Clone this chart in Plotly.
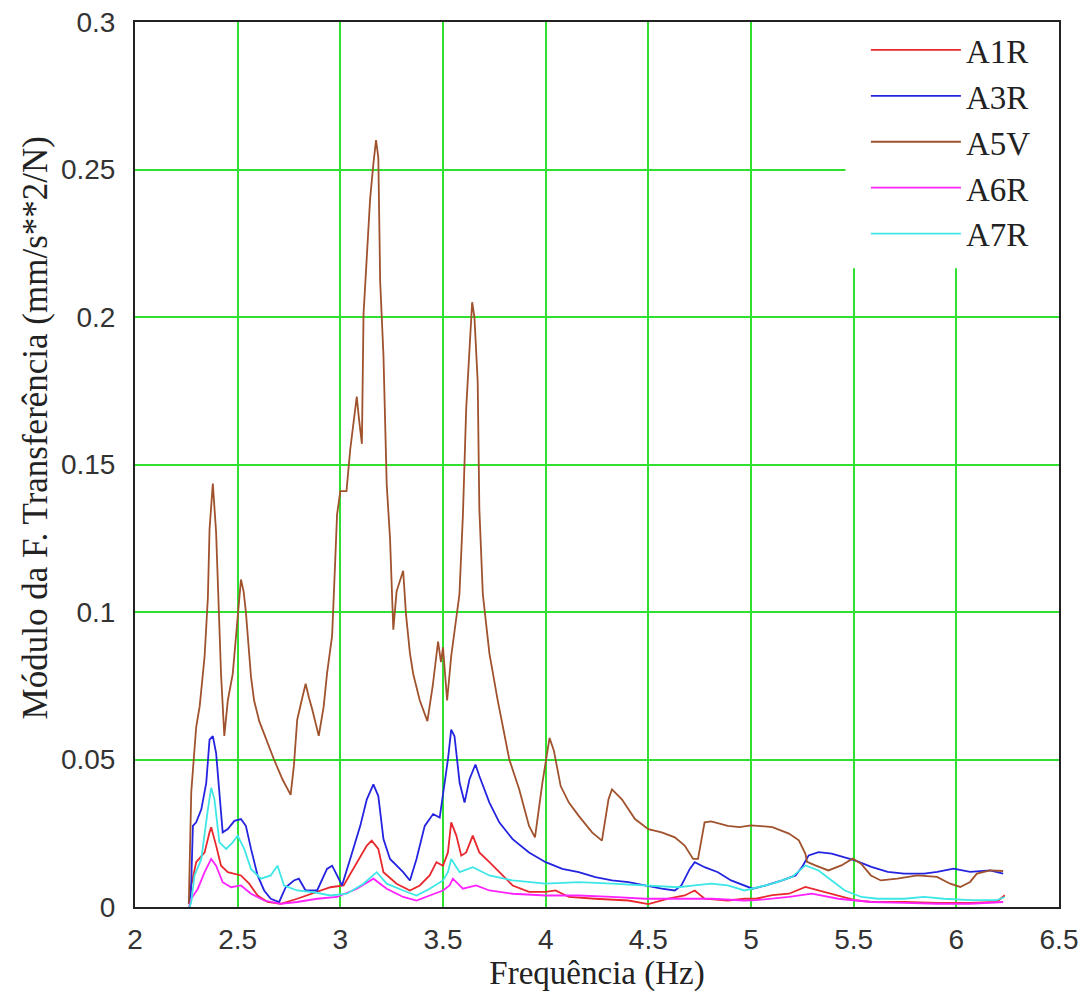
import plotly.graph_objects as go

# ---------------- data ----------------
names = ["A1R", "A3R", "A5V", "A6R", "A7R"]
colors = ["#e8282c", "#2424e0", "#a0522d", "#ff22ff", "#3ee6e6"]

a1r_x = [2.266, 2.274, 2.298, 2.339, 2.363, 2.371, 2.395, 2.419, 2.452, 2.484,
         2.516, 2.556, 2.597, 2.645, 2.71, 2.79, 2.887, 2.952, 3.016, 3.081,
         3.129, 3.153, 3.185, 3.21, 3.274, 3.339, 3.387, 3.435, 3.468, 3.5,
         3.524, 3.54, 3.565, 3.589, 3.613, 3.645, 3.677, 3.726, 3.774, 3.839,
         3.919, 4.0, 4.048, 4.113, 4.242, 4.403, 4.5, 4.597, 4.677, 4.726,
         4.774, 4.887, 4.968, 5.024, 5.104, 5.185, 5.265, 5.329, 5.425, 5.506,
         5.586, 5.746, 5.907, 6.067, 6.196, 6.236]
a1r_y = [0.0, 0.0073, 0.0152, 0.0185, 0.0253, 0.027, 0.0208, 0.014, 0.0118, 0.0112,
         0.0107, 0.0079, 0.0039, 0.0017, 0.0011, 0.0028, 0.005, 0.0067, 0.0073, 0.0152,
         0.0208, 0.0225, 0.0197, 0.0118, 0.0079, 0.0056, 0.0073, 0.0107, 0.0152, 0.014,
         0.0185, 0.0287, 0.0242, 0.0174, 0.0185, 0.0242, 0.0185, 0.0152, 0.0118, 0.0073,
         0.0051, 0.0051, 0.0056, 0.0034, 0.0028, 0.0022, 0.001, 0.0028, 0.0039, 0.0056,
         0.0028, 0.0022, 0.0028, 0.0028, 0.004, 0.0045, 0.0068, 0.0056, 0.004, 0.0023,
         0.0017, 0.0017, 0.0014, 0.0014, 0.0017, 0.004]

a3r_x = [2.266, 2.274, 2.282, 2.298, 2.323, 2.347, 2.363, 2.379, 2.395, 2.411,
         2.427, 2.452, 2.484, 2.516, 2.54, 2.565, 2.597, 2.629, 2.661, 2.702,
         2.734, 2.774, 2.798, 2.831, 2.887, 2.935, 2.96, 2.984, 3.008, 3.048,
         3.097, 3.129, 3.161, 3.185, 3.21, 3.242, 3.274, 3.306, 3.339, 3.371,
         3.411, 3.452, 3.484, 3.508, 3.524, 3.54, 3.556, 3.581, 3.605, 3.629,
         3.658, 3.677, 3.726, 3.774, 3.839, 3.919, 4.0, 4.081, 4.161, 4.242,
         4.323, 4.403, 4.484, 4.565, 4.629, 4.661, 4.702, 4.726, 4.774, 4.839,
         4.903, 4.968, 5.008, 5.072, 5.152, 5.217, 5.249, 5.281, 5.329, 5.393,
         5.457, 5.506, 5.586, 5.666, 5.746, 5.843, 5.907, 5.987, 6.067, 6.164,
         6.228]
a3r_y = [0.0, 0.0084, 0.0275, 0.0287, 0.0331, 0.0421, 0.0567, 0.0579, 0.0522, 0.0376,
         0.0253, 0.0264, 0.0292, 0.0298, 0.0275, 0.0197, 0.0107, 0.0056, 0.0028, 0.0017,
         0.0067, 0.009, 0.0096, 0.0056, 0.0056, 0.0129, 0.014, 0.0107, 0.0073, 0.0163,
         0.0275, 0.0365, 0.0416, 0.0376, 0.023, 0.0163, 0.014, 0.0118, 0.009, 0.0163,
         0.0275, 0.0315, 0.0303, 0.0421, 0.05, 0.0601, 0.0579, 0.0421, 0.0354, 0.0433,
         0.0483, 0.0444, 0.0354, 0.0287, 0.023, 0.0185, 0.0152, 0.0129, 0.0118, 0.0101,
         0.009, 0.0084, 0.0073, 0.0062, 0.0056, 0.0073, 0.0129, 0.0152, 0.0135, 0.0118,
         0.009, 0.0073, 0.0062, 0.0073, 0.009, 0.0107, 0.0136, 0.0175, 0.0186, 0.0181,
         0.0169, 0.0158, 0.0136, 0.0119, 0.0113, 0.0113, 0.0119, 0.013, 0.0119, 0.0124,
         0.0113]

a5v_x = [2.262, 2.274, 2.298, 2.315, 2.339, 2.355, 2.363, 2.379, 2.395, 2.406,
         2.419, 2.435, 2.452, 2.476, 2.5, 2.516, 2.529, 2.54, 2.565, 2.58,
         2.605, 2.645, 2.677, 2.718, 2.758, 2.774, 2.79, 2.815, 2.831, 2.847,
         2.863, 2.895, 2.919, 2.935, 2.96, 2.976, 2.984, 3.0, 3.03, 3.048,
         3.08, 3.09, 3.105, 3.113, 3.129, 3.145, 3.161, 3.174, 3.185, 3.194,
         3.21, 3.218, 3.226, 3.242, 3.258, 3.274, 3.306, 3.32, 3.339, 3.355,
         3.387, 3.424, 3.45, 3.476, 3.49, 3.5, 3.52, 3.54, 3.58, 3.597,
         3.613, 3.629, 3.642, 3.653, 3.669, 3.677, 3.694, 3.726, 3.766, 3.823,
         3.871, 3.919, 3.948, 3.984, 4.008, 4.019, 4.04, 4.073, 4.113, 4.161,
         4.226, 4.274, 4.306, 4.323, 4.371, 4.435, 4.5, 4.565, 4.629, 4.677,
         4.718, 4.742, 4.774, 4.806, 4.887, 4.944, 5.0, 5.104, 5.185, 5.233,
         5.265, 5.273, 5.313, 5.377, 5.44, 5.495, 5.536, 5.584, 5.632, 5.713,
         5.81, 5.906, 5.97, 6.019, 6.067, 6.1, 6.164, 6.228]
a5v_y = [0.001, 0.039, 0.061, 0.068, 0.085, 0.105, 0.128, 0.1435, 0.127, 0.104,
         0.079, 0.058, 0.07, 0.079, 0.1, 0.111, 0.107, 0.1, 0.078, 0.07,
         0.063, 0.0556, 0.05, 0.0433, 0.038, 0.048, 0.0635, 0.071, 0.0757, 0.071,
         0.067, 0.058, 0.068, 0.079, 0.092, 0.119, 0.133, 0.141, 0.141, 0.155,
         0.173, 0.166, 0.157, 0.201, 0.22, 0.24, 0.252, 0.26, 0.254, 0.212,
         0.187, 0.164, 0.143, 0.125, 0.094, 0.107, 0.114, 0.099, 0.086, 0.079,
         0.07, 0.063, 0.075, 0.09, 0.083, 0.088, 0.07, 0.085, 0.106, 0.133,
         0.169, 0.189, 0.205, 0.2, 0.178, 0.135, 0.106, 0.086, 0.0702, 0.05,
         0.0399, 0.0275, 0.0236, 0.0421, 0.0534, 0.0573, 0.053, 0.041, 0.0354, 0.0309,
         0.0253, 0.0225, 0.0365, 0.0399, 0.0365, 0.0298, 0.0264, 0.0253, 0.0236, 0.0208,
         0.0163, 0.0163, 0.0287, 0.029, 0.0275, 0.0271, 0.0277, 0.0271, 0.0249, 0.0226,
         0.018, 0.0153, 0.0141, 0.0124, 0.0141, 0.0164, 0.0147, 0.0107, 0.009, 0.0096,
         0.0107, 0.0102, 0.0079, 0.0068, 0.0085, 0.0113, 0.0124, 0.0122]

a6r_x = [2.266, 2.274, 2.306, 2.339, 2.371, 2.395, 2.427, 2.468, 2.516, 2.565,
         2.629, 2.71, 2.79, 2.887, 2.984, 3.081, 3.161, 3.226, 3.306, 3.371,
         3.435, 3.5, 3.532, 3.548, 3.597, 3.661, 3.726, 3.839, 4.0, 4.161,
         4.323, 4.484, 4.645, 4.806, 4.968, 5.024, 5.185, 5.297, 5.425, 5.586,
         5.746, 5.907, 6.067, 6.228]
a6r_y = [0.0, 0.0028, 0.0062, 0.0118, 0.0163, 0.014, 0.0084, 0.0067, 0.0073, 0.0045,
         0.0022, 0.0011, 0.0017, 0.0028, 0.0034, 0.0062, 0.0096, 0.0062, 0.0034, 0.0022,
         0.0039, 0.0056, 0.0073, 0.0096, 0.0062, 0.0073, 0.0056, 0.0045, 0.0039, 0.0039,
         0.0034, 0.0028, 0.0028, 0.0028, 0.0022, 0.0023, 0.0034, 0.0045, 0.0028, 0.0017,
         0.0014, 0.0011, 0.0011, 0.0017]

a7r_x = [2.266, 2.274, 2.29, 2.323, 2.355, 2.371, 2.387, 2.411, 2.444, 2.476,
         2.5, 2.532, 2.565, 2.613, 2.661, 2.694, 2.726, 2.79, 2.871, 2.952,
         3.032, 3.113, 3.177, 3.226, 3.306, 3.371, 3.435, 3.5, 3.524, 3.54,
         3.581, 3.645, 3.726, 3.839, 4.0, 4.161, 4.323, 4.484, 4.645, 4.726,
         4.806, 4.887, 4.968, 5.104, 5.2, 5.265, 5.329, 5.393, 5.457, 5.538,
         5.618, 5.746, 5.843, 5.939, 6.067, 6.196, 6.236]
a7r_y = [0.0, 0.0017, 0.0107, 0.0163, 0.0331, 0.0404, 0.0365, 0.0219, 0.0197, 0.0219,
         0.0242, 0.0197, 0.0129, 0.0096, 0.0107, 0.014, 0.0073, 0.0056, 0.005, 0.0039,
         0.0045, 0.0079, 0.0118, 0.0079, 0.0056, 0.0039, 0.0062, 0.009, 0.0118, 0.0163,
         0.0118, 0.0135, 0.0107, 0.009, 0.0079, 0.0084, 0.0079, 0.0073, 0.0067, 0.0073,
         0.0079, 0.0073, 0.0056, 0.0079, 0.0102, 0.0141, 0.0124, 0.009, 0.0056, 0.0034,
         0.0028, 0.0028, 0.0034, 0.0028, 0.0023, 0.0023, 0.0034]

x_title = "Frequência (Hz)"
y_title = "Módulo da F. Transferência (mm/s**2/N)"

series_x = [a1r_x, a3r_x, a5v_x, a6r_x, a7r_x]
series_y = [a1r_y, a3r_y, a5v_y, a6r_y, a7r_y]

# ---------------- figure ----------------
SERIF = "Liberation Serif, Times New Roman, serif"
SANS = "Liberation Sans, Arial, sans-serif"
GRID = "#30e030"
X0, X1, Y0, Y1 = 2, 6.5, 0, 0.3

fig = go.Figure()

# white panel behind the legend that hides the grid (as in the reference)
fig.add_trace(go.Scatter(x=[5.46, X1, X1, 5.46, 5.46], y=[0.2165, 0.2165, Y1, Y1, 0.2165],
                         fill="toself", fillcolor="white", mode="none",
                         showlegend=False, hoverinfo="skip"))

for nm, col, xs, ys in zip(names, colors, series_x, series_y):
    fig.add_trace(go.Scatter(x=xs, y=ys, mode="lines", name=nm,
                             line=dict(color=col, width=1.8)))

fig.update_layout(
    width=1089, height=997,
    margin=dict(l=135, r=30, t=22, b=90),
    paper_bgcolor="white", plot_bgcolor="white",
    showlegend=True,
    legend=dict(x=0.791, y=1.0, xanchor="left", yanchor="top",
                bgcolor="rgba(0,0,0,0)", borderwidth=0,
                font=dict(family=SERIF, size=33, color="#222"),
                itemwidth=90, tracegroupgap=0),
    annotations=[dict(text=y_title, textangle=-90, xref="paper", yref="paper",
                      x=-0.108, y=0.541, xanchor="center", yanchor="middle", showarrow=False,
                      font=dict(family=SERIF, size=35, color="#222"))],
    xaxis=dict(range=[X0, X1], dtick=0.5, tick0=2, showgrid=True, gridcolor=GRID, gridwidth=2,
               zeroline=False, showline=True, linecolor="#222", linewidth=2, mirror=True,
               automargin=False,
               ticks="", ticklabelstandoff=6, tickfont=dict(family=SANS, size=28, color="#333"),
               title=dict(text=x_title, font=dict(family=SERIF, size=33, color="#222"), standoff=0)),
    yaxis=dict(range=[Y0, Y1], dtick=0.05, tick0=0, showgrid=True, gridcolor=GRID, gridwidth=2,
               zeroline=False, showline=True, linecolor="#222", linewidth=2, mirror=True,
               automargin=False,
               ticks="", ticklabelstandoff=12, tickfont=dict(family=SANS, size=28, color="#333")),
)

fig.write_html("out.html")
